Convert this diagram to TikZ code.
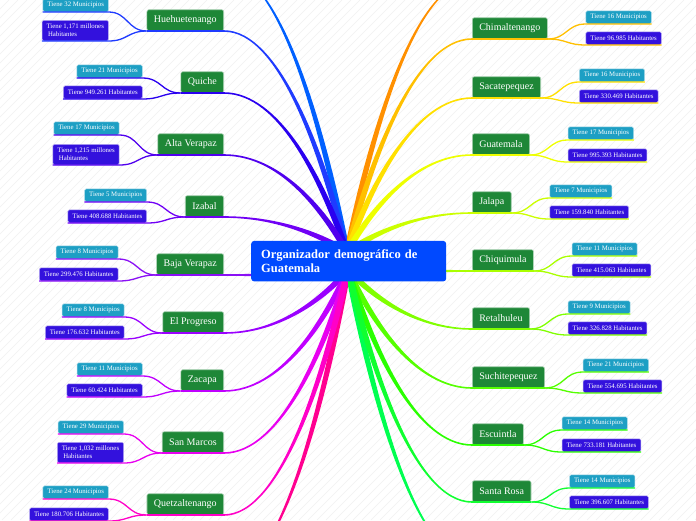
\documentclass[tikz,border=0pt]{standalone}
\usepackage{fontspec}
\setmainfont{Liberation Serif}
\usetikzlibrary{calc}
\pgfdeclarelayer{back}
\pgfsetlayers{back,main}
\definecolor{hubblue}{HTML}{0049FF}
\definecolor{provgreen}{HTML}{1E8737}
\definecolor{muncyan}{HTML}{1D9FC4}
\definecolor{habviolet}{HTML}{3311DD}
\definecolor{stripe}{HTML}{F1F1F1}
% branch colours, west side (top to bottom)
\definecolor{boffnw}{HTML}{0060FF}
\definecolor{bhue}{HTML}{1F3BFF}
\definecolor{bqui}{HTML}{2A00F0}
\definecolor{balta}{HTML}{5000EE}
\definecolor{biza}{HTML}{7000F5}
\definecolor{bbaja}{HTML}{8A10F5}
\definecolor{bprog}{HTML}{9A00FF}
\definecolor{bzac}{HTML}{C000FF}
\definecolor{bsmar}{HTML}{E800F0}
\definecolor{bquet}{HTML}{FF00C8}
\definecolor{boffsw}{HTML}{FF0090}
% branch colours, east side (top to bottom)
\definecolor{boffne}{HTML}{FF9000}
\definecolor{bchim}{HTML}{FFC000}
\definecolor{bsaca}{HTML}{FFE000}
\definecolor{bguat}{HTML}{EEFF00}
\definecolor{bjal}{HTML}{CCFF00}
\definecolor{bchiq}{HTML}{AAFF00}
\definecolor{bret}{HTML}{80FF00}
\definecolor{bsuch}{HTML}{55FF00}
\definecolor{besc}{HTML}{2AFF00}
\definecolor{bsros}{HTML}{10FF30}
\definecolor{boffse}{HTML}{00FF50}

% tapered branch: [half width at hub]{colour}{from}{to}
\newcommand{\limb}[4][3]{%
  \fill[#2] let \p1=(#3), \p2=(#4),
    \p3=({\x1+0.2*(\x2-\x1)},{\y1+0.45*(\y2-\y1)}),
    \p4=({\x2+0.45*(\x1-\x2)},\y2),
    \n1={atan2(\y3-\y1,\x3-\x1)},
    \n2={atan2(\y2-\y4,\x2-\x4)},
    \p5=({#1*sin(\n1)*1pt},{-#1*cos(\n1)*1pt}),
    \p6=({0.8*sin(\n2)*1pt},{-0.8*cos(\n2)*1pt})
  in ($(\p1)+(\p5)$) .. controls ($(\p3)+(\p5)$) and ($(\p4)+(\p6)$) .. ($(\p2)+(\p6)$)
     -- ($(\p2)-(\p6)$) .. controls ($(\p4)-(\p6)$) and ($(\p3)-(\p5)$) .. ($(\p1)-(\p5)$) -- cycle;%
}

\begin{document}
\begin{tikzpicture}[
  x=1pt, y=-1pt,
  hub/.style={fill=hubblue, rounded corners=3pt, text=white, align=left,
    font=\fontsize{12.5}{14}\selectfont\bfseries, text width=175pt,
    inner xsep=10pt, minimum height=40.5pt},
  prov/.style={fill=provgreen, draw=provgreen!35!white, line width=0.6pt,
    rounded corners=2pt, text=white, font=\fontsize{10}{12}\selectfont,
    minimum height=21pt, inner xsep=7pt},
  mun/.style={fill=muncyan, draw=muncyan!35!white, line width=0.5pt,
    rounded corners=1.5pt, text=white, font=\fontsize{6.8}{8}\selectfont,
    minimum height=13pt, inner xsep=4.5pt, inner ysep=1.5pt},
  hab/.style={mun, fill=habviolet, draw=habviolet!35!white, align=left},
  tall/.style={minimum height=20.5pt},
  twig/.style={line width=1.3pt},
]
\useasboundingbox (0,0) rectangle (696,520);

% Central topic
\node[hub, anchor=north west] (hub) at (251,240.7)
  {Organizador demográfico de\\Guatemala};

% West side departments
\node[prov, anchor=south east] (hue) at (224,31) {Huehuetenango};
\node[mun, anchor=south east] (hue-mun) at ([shift={(-38,-19)}]hue.south west) {Tiene 32 Municipios};
\node[hab, tall, anchor=south east] (hue-hab) at ([shift={(-38,10)}]hue.south west) {Tiene 1,171 millones\\\hspace*{1.5pt}Habitantes};

\node[prov, anchor=south east] (qui) at (224,93) {Quiche};
\node[mun, anchor=south east] (qui-mun) at ([shift={(-38,-15)}]qui.south west) {Tiene 21 Municipios};
\node[hab, anchor=south east] (qui-hab) at ([shift={(-38,6)}]qui.south west) {Tiene 949.261 Habitantes};

\node[prov, anchor=south east] (alta) at (224,155) {Alta Verapaz};
\node[mun, anchor=south east] (alta-mun) at ([shift={(-38,-20)}]alta.south west) {Tiene 17 Municipios};
\node[hab, tall, anchor=south east] (alta-hab) at ([shift={(-38,10)}]alta.south west) {Tiene 1,215 millones\\\hspace*{1.5pt}Habitantes};

\node[prov, anchor=south east] (iza) at (224,217) {Izabal};
\node[mun, anchor=south east] (iza-mun) at ([shift={(-38,-15)}]iza.south west) {Tiene 5 Municipios};
\node[hab, anchor=south east] (iza-hab) at ([shift={(-38,6)}]iza.south west) {Tiene 408.688 Habitantes};

\node[prov, anchor=south east] (baja) at (224,275) {Baja Verapaz};
\node[mun, anchor=south east] (baja-mun) at ([shift={(-38,-16)}]baja.south west) {Tiene 8 Municipios};
\node[hab, anchor=south east] (baja-hab) at ([shift={(-38,6)}]baja.south west) {Tiene 299.476 Habitantes};

\node[prov, anchor=south east] (prog) at (224,333) {El Progreso};
\node[mun, anchor=south east] (prog-mun) at ([shift={(-38,-16)}]prog.south west) {Tiene 8 Municipios};
\node[hab, anchor=south east] (prog-hab) at ([shift={(-38,6)}]prog.south west) {Tiene 176.632 Habitantes};

\node[prov, anchor=south east] (zac) at (224,391) {Zacapa};
\node[mun, anchor=south east] (zac-mun) at ([shift={(-38,-15)}]zac.south west) {Tiene 11 Municipios};
\node[hab, anchor=south east] (zac-hab) at ([shift={(-38,6)}]zac.south west) {Tiene 60.424 Habitantes};

\node[prov, anchor=south east] (smar) at (224,453) {San Marcos};
\node[mun, anchor=south east] (smar-mun) at ([shift={(-38,-19)}]smar.south west) {Tiene 29 Municipios};
\node[hab, tall, anchor=south east] (smar-hab) at ([shift={(-38,10)}]smar.south west) {Tiene 1,032 millones\\\hspace*{1.5pt}Habitantes};

\node[prov, anchor=south east] (quet) at (224,515) {Quetzaltenango};
\node[mun, anchor=south east] (quet-mun) at ([shift={(-38,-16)}]quet.south west) {Tiene 24 Municipios};
\node[hab, anchor=south east] (quet-hab) at ([shift={(-38,6)}]quet.south west) {Tiene 180.706 Habitantes};

% East side departments
\node[prov, anchor=south west] (chim) at (472,39) {Chimaltenango};
\node[mun, anchor=south west] (chim-mun) at ([shift={(38,-15)}]chim.south east) {Tiene 16 Municipios};
\node[hab, anchor=south west] (chim-hab) at ([shift={(38,6)}]chim.south east) {Tiene 96.985 Habitantes};

\node[prov, anchor=south west] (saca) at (472,98) {Sacatepequez};
\node[mun, anchor=south west] (saca-mun) at ([shift={(38,-16)}]saca.south east) {Tiene 16 Municipios};
\node[hab, anchor=south west] (saca-hab) at ([shift={(38,5)}]saca.south east) {Tiene 330.469 Habitantes};

\node[prov, anchor=south west] (guat) at (472,155) {Guatemala};
\node[mun, anchor=south west] (guat-mun) at ([shift={(38,-15)}]guat.south east) {Tiene 17 Municipios};
\node[hab, anchor=south west] (guat-hab) at ([shift={(38,7)}]guat.south east) {Tiene 995.393 Habitantes};

\node[prov, anchor=south west] (jal) at (472,213) {Jalapa};
\node[mun, anchor=south west] (jal-mun) at ([shift={(38,-15)}]jal.south east) {Tiene 7 Municipios};
\node[hab, anchor=south west] (jal-hab) at ([shift={(38,6)}]jal.south east) {Tiene 159.840 Habitantes};

\node[prov, anchor=south west] (chiq) at (472,271) {Chiquimula};
\node[mun, anchor=south west] (chiq-mun) at ([shift={(38,-15)}]chiq.south east) {Tiene 11 Municipios};
\node[hab, anchor=south west] (chiq-hab) at ([shift={(38,6)}]chiq.south east) {Tiene 415.063 Habitantes};

\node[prov, anchor=south west] (ret) at (472,329) {Retalhuleu};
\node[mun, anchor=south west] (ret-mun) at ([shift={(38,-15)}]ret.south east) {Tiene 9 Municipios};
\node[hab, anchor=south west] (ret-hab) at ([shift={(38,6)}]ret.south east) {Tiene 326.828 Habitantes};

\node[prov, anchor=south west] (such) at (472,388) {Suchitepequez};
\node[mun, anchor=south west] (such-mun) at ([shift={(38,-16)}]such.south east) {Tiene 21 Municipios};
\node[hab, anchor=south west] (such-hab) at ([shift={(38,5)}]such.south east) {Tiene 554.695 Habitantes};

\node[prov, anchor=south west] (esc) at (472,445) {Escuintla};
\node[mun, anchor=south west] (esc-mun) at ([shift={(38,-15)}]esc.south east) {Tiene 14 Municipios};
\node[hab, anchor=south west] (esc-hab) at ([shift={(38,7)}]esc.south east) {Tiene 733.181 Habitantes};

\node[prov, anchor=south west] (sros) at (472,502) {Santa Rosa};
\node[mun, anchor=south west] (sros-mun) at ([shift={(38,-14)}]sros.south east) {Tiene 14 Municipios};
\node[hab, anchor=south west] (sros-hab) at ([shift={(38,7)}]sros.south east) {Tiene 396.607 Habitantes};

% Branch roots (hidden behind the hub) and branches leaving the page
\coordinate (ntop) at (347,252);
\coordinate (sbot) at (348,270);
\coordinate (wside) at (258,275);
\coordinate (eside) at (440,271);
\coordinate (offnw) at (224,-30);
\coordinate (offne) at (472,-19);
\coordinate (offsw) at (224,577);
\coordinate (offse) at (472,561);

\begin{pgfonlayer}{back}
  % faint diagonal hatching of the canvas
  \fill[white] (0,0) rectangle (696,520);
  \begin{scope}
    \clip (0,0) rectangle (696,520);
    \foreach \k in {-520,-511,...,700}
      \draw[stripe, line width=0.6pt] (\k,520) -- ({\k+520},0);
  \end{scope}

  % main branches
  \limb{boffnw}{ntop}{offnw}
  \limb{boffne}{ntop}{offne}
  \limb{boffsw}{sbot}{offsw}
  \limb{boffse}{sbot}{offse}
  \foreach \nd/\col/\from in {hue/bhue/ntop, qui/bqui/ntop, alta/balta/ntop, iza/biza/ntop,
      prog/bprog/sbot, zac/bzac/sbot, smar/bsmar/sbot, quet/bquet/sbot}
    \limb{\col}{\from}{\nd.south east};
  \foreach \nd/\col/\from in {chim/bchim/ntop, saca/bsaca/ntop, guat/bguat/ntop, jal/bjal/ntop,
      ret/bret/sbot, such/bsuch/sbot, esc/besc/sbot, sros/bsros/sbot}
    \limb{\col}{\from}{\nd.south west};
  \limb[1.2]{bbaja}{wside}{baja.south east}
  \limb[1.2]{bchiq}{eside}{chiq.south west}
\end{pgfonlayer}

% underlines and twigs to the detail boxes
\foreach \nd/\col in {hue/bhue, qui/bqui, alta/balta, iza/biza, baja/bbaja,
    prog/bprog, zac/bzac, smar/bsmar, quet/bquet}{
  \draw[\col, line width=1.6pt] (\nd.south east) -- (\nd.south west);
  \draw[twig, \col] (\nd.south west) .. controls +(-19,0) and +(19,0) .. (\nd-mun.south east) -- (\nd-mun.south west);
  \draw[twig, \col] (\nd.south west) .. controls +(-19,0) and +(19,0) .. (\nd-hab.south east) -- (\nd-hab.south west);
}
\foreach \nd/\col in {chim/bchim, saca/bsaca, guat/bguat, jal/bjal, chiq/bchiq,
    ret/bret, such/bsuch, esc/besc, sros/bsros}{
  \draw[\col, line width=1.6pt] (\nd.south west) -- (\nd.south east);
  \draw[twig, \col] (\nd.south east) .. controls +(19,0) and +(-19,0) .. (\nd-mun.south west) -- (\nd-mun.south east);
  \draw[twig, \col] (\nd.south east) .. controls +(19,0) and +(-19,0) .. (\nd-hab.south west) -- (\nd-hab.south east);
}
\end{tikzpicture}
\end{document}
